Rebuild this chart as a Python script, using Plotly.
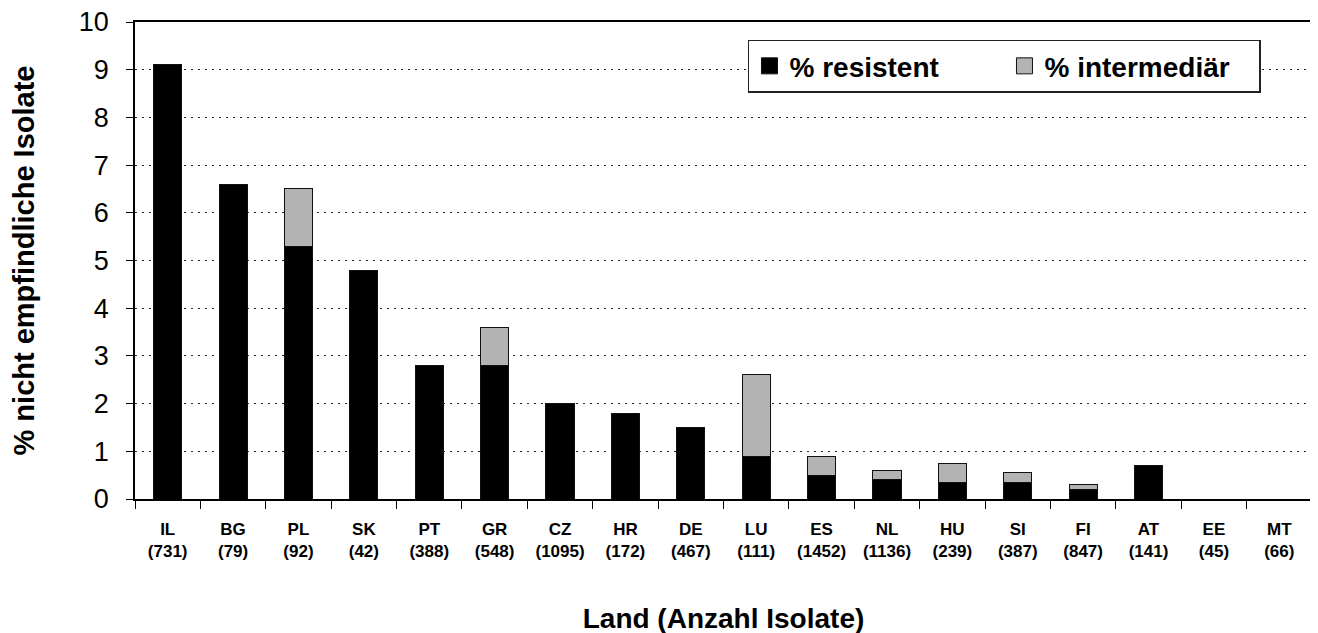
import plotly.graph_objects as go

countries = ["IL", "BG", "PL", "SK", "PT", "GR", "CZ", "HR", "DE", "LU",
             "ES", "NL", "HU", "SI", "FI", "AT", "EE", "MT"]
n_isolates = [731, 79, 92, 42, 388, 548, 1095, 172, 467, 111,
              1452, 1136, 239, 387, 847, 141, 45, 66]
resistent = [9.1, 6.6, 5.3, 4.8, 2.8, 2.8, 2.0, 1.8, 1.5, 0.9,
             0.5, 0.4, 0.35, 0.35, 0.2, 0.7, 0, 0]
intermediaer = [0, 0, 1.2, 0, 0, 0.8, 0, 0, 0, 1.7,
                0.4, 0.2, 0.4, 0.2, 0.1, 0, 0, 0]
series_names = ["% resistent", "% intermediär"]
series_colors = ["#000000", "#b3b3b3"]
y_ticks = list(range(0, 11))

FONT = "Liberation Sans, Arial, sans-serif"
tick_text = [f"{c}<br>({n})" for c, n in zip(countries, n_isolates)]

fig = go.Figure()
for vals, name, col in zip([resistent, intermediaer], series_names, series_colors):
    fig.add_trace(go.Bar(
        x=countries, y=vals, name=name, legendgroup=name, showlegend=False,
        marker=dict(color=col, line=dict(color="#111111", width=1)),
    ))
# legend entries (larger square symbols, as in the reference legend)
for name, col in zip(series_names, series_colors):
    fig.add_trace(go.Scatter(
        x=[None], y=[None], mode="markers", name=name, legendgroup=name,
        marker=dict(symbol="square", size=16, color=col,
                    line=dict(color="#111111", width=1)),
    ))

fig.update_layout(
    width=1318, height=633,
    barmode="stack", bargap=0.57,
    paper_bgcolor="white", plot_bgcolor="white",
    margin=dict(l=127, r=14, t=14, b=142, autoexpand=False),
    font=dict(family=FONT, color="black"),
    showlegend=True,
    legend=dict(
        orientation="h", x=0.5208, y=0.963, xanchor="left", yanchor="top",
        bordercolor="#222222", borderwidth=1.5, bgcolor="white",
        font=dict(family=FONT, size=28, weight="bold", color="black"),
        entrywidth=210, entrywidthmode="pixels",
        traceorder="normal", itemsizing="trace",
    ),
)

fig.update_xaxes(
    type="category", categoryorder="array", categoryarray=countries,
    tickmode="array", tickvals=countries, ticktext=tick_text,
    tickson="boundaries", ticks="outside", ticklen=8, tickwidth=1, tickcolor="black",
    tickfont=dict(family=FONT, size=17, weight="bold", color="black"),
    ticklabelstandoff=14, automargin=False,
    showline=True, linecolor="black", linewidth=1.5, mirror=True,
    showgrid=False,
    title=dict(text="Land (Anzahl Isolate)", standoff=48,
               font=dict(family=FONT, size=28, weight="bold", color="black")),
)
fig.update_yaxes(
    range=[0, 10], tickmode="array", tickvals=y_ticks,
    ticks="outside", ticklen=7, tickwidth=1, tickcolor="black",
    tickfont=dict(family=FONT, size=27, color="black"),
    ticklabelstandoff=12, ticklabeloverflow="allow", automargin=False,
    showline=True, linecolor="black", linewidth=1.5, mirror=True,
    showgrid=True, gridcolor="#222222", gridwidth=1, griddash="2px,5px",
    zeroline=False,
    title=dict(text="% nicht empfindliche Isolate", standoff=43,
               font=dict(family=FONT, size=29, weight="bold", color="black")),
)

fig.write_html("out.html")
